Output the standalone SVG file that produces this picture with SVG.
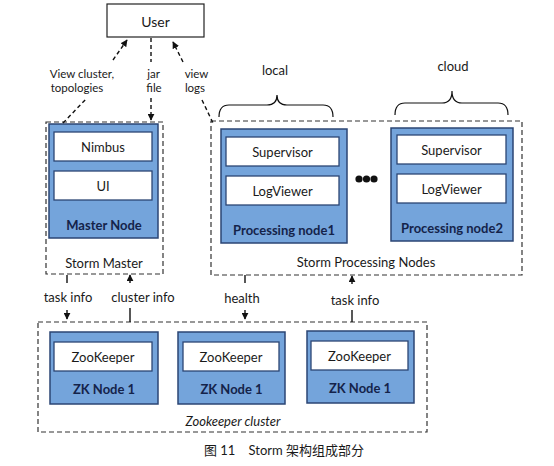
<svg xmlns="http://www.w3.org/2000/svg" width="554" height="466" viewBox="0 0 554 466">
<style>
text{font-family:Lato,"Noto Sans","Noto Sans CJK SC",sans-serif;fill:#1a1a1a;text-anchor:middle;dominant-baseline:central}
.t{font-size:13px}
.b{font-size:13px;font-weight:bold;fill:#14234a}
.s{font-size:11.5px}
.dash{fill:none;stroke:#333;stroke-width:1.2;stroke-dasharray:5 3}
.blue{fill:#74a4db;stroke:#2b4574;stroke-width:1.5}
.white{fill:#fff;stroke:#2b4574;stroke-width:1.3}
.conn{fill:none;stroke:#111;stroke-width:1.4}
.dc{fill:none;stroke:#111;stroke-width:1.4;stroke-dasharray:4 3}
.brace{fill:none;stroke:#111;stroke-width:1.2}
</style>
<defs>
<marker id="ah" viewBox="0 0 10 10" refX="9" refY="5" markerWidth="7" markerHeight="7" markerUnits="userSpaceOnUse" orient="auto">
<path d="M0,0 L10,5 L0,10 z" fill="#111"/>
</marker>
</defs>

<g id="user">
<rect x="107" y="4" width="97" height="33" fill="#fff" stroke="#222" stroke-width="1.2"/>
<text x="155.5" y="21" style="font-size:14px">User</text>
</g>

<g id="storm-master">
<rect class="dash" x="46" y="122" width="117" height="152"/>
<rect class="blue" x="49" y="124" width="109" height="114"/>
<g id="nimbus"><rect class="white" x="54" y="132" width="98" height="29"/><text class="t" x="103" y="147">Nimbus</text></g>
<g id="ui"><rect class="white" x="54" y="171" width="98" height="29"/><text class="t" x="103" y="186">UI</text></g>
<text class="b" x="104" y="225">Master Node</text>
<text class="t" x="104" y="263">Storm Master</text>
</g>

<g id="storm-processing-nodes">
<rect class="dash" x="211" y="121" width="311" height="154"/>
<text class="t" x="366" y="262">Storm Processing Nodes</text>
</g>

<g id="processing-node1">
<rect class="blue" x="221" y="129" width="126" height="114"/>
<rect class="white" x="226" y="137" width="113" height="29"/><text class="t" x="282.5" y="152">Supervisor</text>
<rect class="white" x="226" y="176" width="113" height="29"/><text class="t" x="282.5" y="191">LogViewer</text>
<text class="b" x="284" y="230">Processing node1</text>
</g>

<g id="ellipsis">
<circle cx="359" cy="179" r="3.6" fill="#111"/>
<circle cx="366.5" cy="179" r="3.6" fill="#111"/>
<circle cx="374" cy="179" r="3.6" fill="#111"/>
</g>

<g id="processing-node2">
<rect class="blue" x="391" y="128" width="122" height="113"/>
<rect class="white" x="397" y="135" width="109" height="29"/><text class="t" x="451.5" y="150">Supervisor</text>
<rect class="white" x="397" y="174" width="109" height="29"/><text class="t" x="451.5" y="189">LogViewer</text>
<text class="b" x="452" y="228">Processing node2</text>
</g>

<g id="local">
<path class="brace" d="M219,117 Q219,105 229,105 L267,105 Q277,105 277,95 Q277,105 287,105 L323,105 Q333,105 333,117"/>
<text class="t" x="275" y="70">local</text>
</g>
<g id="cloud">
<path class="brace" d="M395,115 Q395,103 405,103 L442,103 Q452,103 452,91 Q452,103 462,103 L498,103 Q508,103 508,115"/>
<text class="t" x="453" y="66">cloud</text>
</g>

<g id="zookeeper-cluster">
<rect class="dash" x="38" y="322" width="389" height="110"/>
<text class="t" x="233" y="421" style="font-style:italic">Zookeeper cluster</text>
</g>
<g id="zk1">
<rect class="blue" x="50" y="332" width="108" height="72"/>
<rect class="white" x="54" y="342" width="98" height="29"/><text class="t" x="103" y="357">ZooKeeper</text>
<text class="b" x="104" y="389">ZK Node 1</text>
</g>
<g id="zk2">
<rect class="blue" x="178" y="332" width="107" height="72"/>
<rect class="white" x="183" y="342" width="96" height="29"/><text class="t" x="231" y="357">ZooKeeper</text>
<text class="b" x="231.5" y="389">ZK Node 1</text>
</g>
<g id="zk3">
<rect class="blue" x="307" y="331" width="107" height="72"/>
<rect class="white" x="311" y="341" width="97" height="29"/><text class="t" x="359.5" y="356">ZooKeeper</text>
<text class="b" x="360" y="388">ZK Node 1</text>
</g>

<g id="connectors">
<path class="dc" d="M113,60 L127,40" marker-end="url(#ah)"/>
<path class="dc" d="M63,123 L86,99"/>
<text class="s" x="82" y="73">View cluster,</text>
<text class="s" x="77" y="87">topologies</text>

<path class="dc" d="M151,38 L151,62"/>
<path class="dc" d="M151,98 L151,120" marker-end="url(#ah)"/>
<text class="s" x="153.5" y="73">jar</text>
<text class="s" x="154" y="87">file</text>

<path class="dc" d="M183,62 L173,42" marker-end="url(#ah)"/>
<path class="dc" d="M202,100 L213,123"/>
<text class="s" x="196.5" y="73">view</text>
<text class="s" x="195" y="87">logs</text>

<path class="conn" d="M67,275 L67,283"/>
<path class="conn" d="M67,310 L67,319" marker-end="url(#ah)"/>
<text class="t" x="68" y="297">task info</text>

<path class="conn" d="M130,322 L130,308"/>
<path class="conn" d="M130,283 L130,275" marker-end="url(#ah)"/>
<text class="t" x="143" y="297">cluster info</text>

<path class="conn" d="M245,275 L245,283"/>
<path class="conn" d="M245,310 L245,319" marker-end="url(#ah)"/>
<text class="t" x="242" y="298">health</text>

<path class="conn" d="M352,322 L352,310"/>
<path class="conn" d="M352,284 L352,276" marker-end="url(#ah)"/>
<text class="t" x="355" y="300">task info</text>
</g>

<text x="284" y="450" xml:space="preserve" style="font-size:13px;font-family:Lato,'Noto Sans CJK SC',sans-serif">图 11    Storm 架构组成部分</text>
</svg>
